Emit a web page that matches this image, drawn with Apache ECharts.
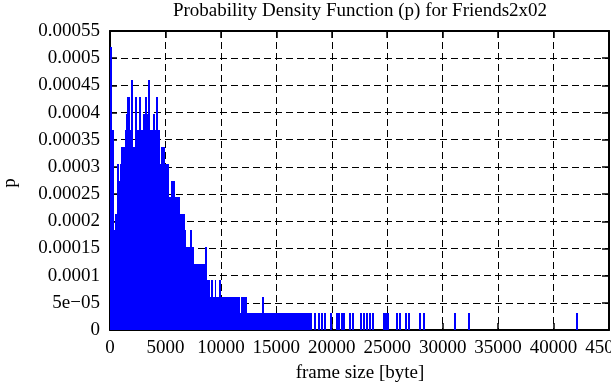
<!DOCTYPE html>
<html><head><meta charset="utf-8">
<script src="https://cdn.jsdelivr.net/npm/echarts@6/dist/echarts.min.js"></script>
<style>html,body{margin:0;padding:0;background:#fff}#c{width:611px;height:385px}</style>
</head><body><div id="c"></div>
<script>
const titleText = 'Probability Density Function (p) for Friends2x02';
const xAxisTitle = 'frame size [byte]';
const yAxisTitle = 'p';
const yTickLabels = ['0','5e\u221205','0.0001','0.00015','0.0002','0.00025','0.0003','0.00035','0.0004','0.00045','0.0005','0.00055'];

// dense part: histogram runs, edges in bytes and pdf value for each run
const binEdges = [45,136,316,407,587,768,858,949,1310,1401,1491,1762,1852,2033,2214,2395,2575,2756,2937,3117,
  3298,3389,3569,3840,4021,4111,4292,4473,4563,4925,5286,5467,5828,6280,6732,6822,7184,7364,7545,8539,
  8720,8991,9081,9262,9443,9533,9804,9985,11702,11792,12334,13689,13870,18207];
const binPdf = [0.000520,0.000367,0.000184,0.000214,0.000306,0.000275,0.000306,0.000337,0.000367,0.000398,
  0.000428,0.000367,0.000459,0.000337,0.000428,0.000367,0.000428,0.000367,0.000398,0.000428,
  0.000398,0.000459,0.000367,0.000398,0.000367,0.000428,0.000367,0.000306,0.000337,0.000306,
  0.000245,0.000275,0.000245,0.000214,0.000184,0.000153,0.000184,0.000153,0.000122,0.000153,
  0.0000918,0.0000612,0.0000918,0.0000612,0.0000918,0.0000612,0.0000918,0.0000612,0.0000306,0.0000612,
  0.0000306,0.0000612,0.0000306];

// sparse part: isolated frame sizes
const spikeSizes = [18524,18840,19156,19382,19924,20466,20692,20918,21144,21641,21912,22635,22906,23177,23403,
  23674,24713,24894,25075,25888,26114,26701,26927,27966,28328,31129,32394,42153];
const spikePdf = [0.0000306,0.0000306,0.0000306,0.0000306,0.0000306,0.0000306,0.0000306,0.0000306,0.0000306,0.0000306,
  0.0000306,0.0000306,0.0000306,0.0000306,0.0000306,0.0000306,0.0000306,0.0000306,0.0000306,0.0000306,
  0.0000306,0.0000306,0.0000306,0.0000306,0.0000306,0.0000306,0.0000306,0.0000306];

const histData = binPdf.map((p, i) => [binEdges[i], binEdges[i + 1], p]);
const spikeData = spikeSizes.map((s, i) => [s, spikePdf[i]]);

const FONT = 'Liberation Serif';
const FS = 19;
const BLUE = '#0000ff';
const fontStr = FS + 'px "' + FONT + '"';

const chart = echarts.init(document.getElementById('c'), null, {renderer: 'canvas'});
const axisCommon = {
  axisLine: {show: true, onZero: false, lineStyle: {color: '#000', width: 2}},
  axisTick: {show: true, inside: true, length: 7, lineStyle: {color: '#000', width: 1.5}},
};
chart.setOption({
  animation: false,
  grid: {left: 110, right: 2, top: 31, bottom: 55, outerBoundsMode: 'none', containLabel: false},
  xAxis: [
    Object.assign({
      type: 'value', min: 0, max: 45000, interval: 5000, position: 'bottom',
      axisLabel: {color: '#000', fontFamily: FONT, fontSize: FS, margin: 9, showMaxLabel: true, showMinLabel: true,
        hideOverlap: false, formatter: v => String(v)},
      splitLine: {show: true, lineStyle: {color: '#000', width: 1, type: [7, 4]}}
    }, axisCommon),
    Object.assign({
      type: 'value', min: 0, max: 45000, interval: 5000, position: 'top',
      axisLabel: {show: false}, splitLine: {show: false}
    }, axisCommon)
  ],
  yAxis: [
    Object.assign({
      type: 'value', min: 0, max: 0.00055, interval: 0.00005, position: 'left',
      axisLabel: {color: '#000', fontFamily: FONT, fontSize: FS, margin: 10, showMaxLabel: true, showMinLabel: true,
        formatter: v => yTickLabels[Math.round(v / 0.00005)]},
      splitLine: {show: true, lineStyle: {color: '#000', width: 1, type: [7, 4]}}
    }, axisCommon),
    Object.assign({
      type: 'value', min: 0, max: 0.00055, interval: 0.00005, position: 'right',
      axisLabel: {show: false}, splitLine: {show: false}
    }, axisCommon)
  ],
  graphic: [
    {type: 'text', x: 360, y: 11, style: {text: titleText, font: fontStr, fill: '#000', textAlign: 'center', textVerticalAlign: 'middle'}},
    {type: 'text', x: 360, y: 373, style: {text: xAxisTitle, font: fontStr, fill: '#000', textAlign: 'center', textVerticalAlign: 'middle'}},
    {type: 'text', x: 10, y: 183, rotation: Math.PI / 2, style: {text: yAxisTitle, font: fontStr, fill: '#000', textAlign: 'center', textVerticalAlign: 'middle'}}
  ],
  series: [
    {
      type: 'custom', name: 'pdf', xAxisIndex: 0, yAxisIndex: 0, z: 3,
      encode: {x: [0, 1], y: 2},
      data: histData,
      renderItem: function (params, api) {
        const a = api.coord([api.value(0), api.value(2)]);
        const b = api.coord([api.value(1), 0]);
        const x0 = Math.round(a[0]), x1 = Math.round(b[0]);
        return {type: 'rect', shape: {x: x0, y: Math.round(a[1]), width: x1 - x0, height: Math.round(b[1]) - Math.round(a[1])},
          style: {fill: BLUE, stroke: null}};
      }
    },
    {
      type: 'custom', name: 'spikes', xAxisIndex: 0, yAxisIndex: 0, z: 3,
      encode: {x: 0, y: 1},
      data: spikeData,
      renderItem: function (params, api) {
        const a = api.coord([api.value(0), api.value(1)]);
        const b = api.coord([api.value(0), 0]);
        const x0 = Math.round(a[0] - 1);
        return {type: 'rect', shape: {x: x0, y: Math.round(a[1]), width: 2, height: Math.round(b[1]) - Math.round(a[1])},
          style: {fill: BLUE, stroke: null}};
      }
    }
  ]
});
</script>
</body></html>
